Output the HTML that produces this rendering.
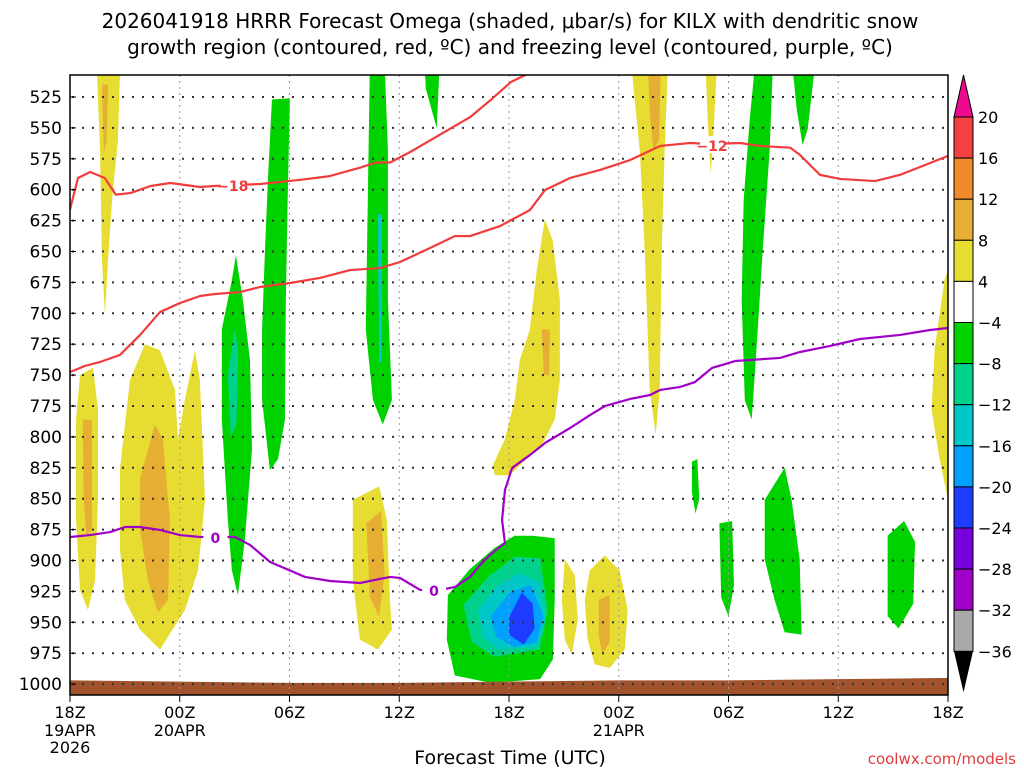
<!DOCTYPE html>
<html><head><meta charset="utf-8"><style>
body{margin:0;background:#fff;width:1024px;height:768px;overflow:hidden;font-family:"Liberation Sans","DejaVu Sans",sans-serif}
svg text{font-family:"DejaVu Sans","Liberation Sans",sans-serif}
</style></head><body>
<svg id="chart" width="1024" height="768" viewBox="0 0 1024 768" xmlns="http://www.w3.org/2000/svg">
<g font-size="20" text-anchor="middle" fill="#000">
<text x="510" y="28">2026041918 HRRR Forecast Omega (shaded, μbar/s) for KILX with dendritic snow</text>
<text x="510" y="54">growth region (contoured, red, ºC) and freezing level (contoured, purple, ºC)</text>
</g>
<defs><clipPath id="pc"><rect x="70" y="75" width="878" height="620"/></clipPath></defs>
<g id="shade" clip-path="url(#pc)"></g>
<g id="grid"></g>
<g id="lines" clip-path="url(#pc)"></g>
<rect x="70" y="75" width="878" height="620" fill="none" stroke="#000" stroke-width="1.5"/>
<g id="yaxis" font-size="17" text-anchor="end"></g>
<g id="xaxis" font-size="16" text-anchor="middle"></g>
<text x="510" y="764" font-size="19" text-anchor="middle">Forecast Time (UTC)</text>
<text x="1016" y="764" font-size="15" text-anchor="end" fill="#e03c3c">coolwx.com/models</text>
<g id="cbar" font-size="16"></g>
</svg>
<script>
const pressureTicks=[525,550,575,600,625,650,675,700,725,750,775,800,825,850,875,900,925,950,975,1000];
const timeTicks=[0,6,12,18,24,30,36,42,48];
const timeLabels=["18Z","00Z","06Z","12Z","18Z","00Z","06Z","12Z","18Z"];
const dateLabels=[["19APR","2026"],["20APR"],[],[],[],["21APR"],[],[],[]];
const cbLevels=[20,16,12,8,4,-4,-8,-12,-16,-20,-24,-28,-32,-36];
const cbColors=["#f44040","#f08a2a","#e6ae32","#e6dc32","#ffffff","#00d200","#00d28c","#00c8c8","#00a0ff","#1e3cff","#7800dc","#a000c8","#a8a8a8"];
const C={y:"#e6dc32",o:"#e6ae32",g:"#00d200",t:"#00d28c",c:"#00c8c8",b:"#00a0ff",d:"#1e3cff"};
const blobs=[
["y",[[1.48,507],[2.73,507],[2.62,560],[2.3,608],[2.08,657],[1.91,701],[1.75,657],[1.64,568]]],
["o",[[1.75,515],[2.08,515],[2.0,560],[1.85,570]]],
["y",[[0.55,750],[1.26,744],[1.53,778],[1.53,851],[1.37,916],[0.98,940],[0.55,924],[0.33,867],[0.33,786]]],
["o",[[0.7,786],[1.2,786],[1.2,875],[0.9,880],[0.75,850]]],
["y",[[2.73,826],[3.28,754],[4.1,725],[4.92,730],[5.74,762],[5.9,802],[6.28,770],[6.83,730],[7.1,754],[7.38,851],[7.0,908],[6.28,940],[4.92,972],[3.83,956],[3,932],[2.73,891]]],
["o",[[3.83,834],[4.64,790],[5.08,802],[5.46,867],[5.36,932],[4.81,942],[4.26,916],[3.83,875]]],
["g",[[8.3,713],[8.85,673],[9.07,653],[9.45,689],[9.84,738],[9.95,810],[9.56,883],[9.18,928],[8.85,908],[8.63,867],[8.3,786]]],
["t",[[8.63,750],[9.0,713],[9.2,730],[9.1,790],[8.8,800]]],
["g",[[10.5,713],[10.66,649],[10.82,592],[11.04,527],[12.02,526],[11.9,608],[11.8,689],[11.75,786],[11.37,818],[10.93,827],[10.5,770]]],
["g",[[16.39,503],[17.21,502],[17.38,568],[17.38,689],[17.6,770],[17.1,790],[16.56,770],[16.17,713],[16.28,608]]],
["c",[[16.83,620],[17.05,620],[17.05,740],[16.9,740]]],
["g",[[19.4,502],[20.2,502],[20.05,550],[19.78,536],[19.45,518]]],
["y",[[15.46,851],[16.9,840],[17.32,867],[17.49,932],[17.6,956],[16.83,972],[15.85,964],[15.46,916]]],
["o",[[16.2,870],[17.0,860],[17.2,910],[16.9,945],[16.4,930]]],
["g",[[20.66,928],[21.86,907],[23.2,890],[24.3,880],[25.3,880],[26.5,882],[26.5,932],[26.4,980],[25.7,996],[23.0,999],[21.04,993],[20.6,964]]],
["t",[[21.5,936],[22.95,912],[24.3,897],[25.7,898],[26.12,940],[25.68,972],[23.2,978],[21.97,966]]],
["c",[[22.3,940],[23.4,920],[24.6,910],[25.7,918],[25.96,950],[25.5,970],[23.4,972],[22.6,962]]],
["b",[[23.0,945],[24.1,925],[25.2,920],[25.9,945],[25.5,966],[24.3,970],[23.3,962]]],
["d",[[24.0,946],[24.7,926],[25.3,935],[25.4,955],[24.8,968],[24.0,960]]],
["y",[[23.11,823],[23.77,802],[24.32,770],[24.59,738],[25.14,713],[25.52,665],[25.96,624],[26.39,641],[26.78,689],[26.78,754],[26.5,786],[25.68,810],[25.14,815],[24.04,831],[23.22,831]]],
["o",[[25.8,713],[26.23,713],[26.2,750],[25.9,750]]],
["y",[[27.05,899],[27.6,912],[27.76,948],[27.43,976],[27.05,964],[26.89,932]]],
["y",[[28.42,908],[29.23,896],[30.05,908],[30.49,940],[30.33,972],[29.5,987],[28.69,984],[28.3,964],[28.14,932]]],
["o",[[28.9,932],[29.5,928],[29.5,966],[29.1,976],[28.9,960]]],
["y",[[30.71,502],[32.68,502],[32.51,568],[32.35,649],[32.24,762],[32.02,798],[31.69,762],[31.42,649],[31.15,568],[30.87,527]]],
["o",[[31.6,502],[32.3,502],[32.2,560],[31.9,568],[31.7,540]]],
["y",[[34.75,502],[35.36,502],[35.19,551],[35.03,588],[34.86,543]]],
["g",[[37.43,502],[38.42,502],[38.25,568],[37.87,649],[37.6,713],[37.27,786],[36.89,770],[36.72,689],[36.83,608],[37.16,543]]],
["g",[[39.51,502],[40.71,502],[40.33,551],[40.05,564],[39.73,535]]],
["g",[[34.0,820],[34.3,818],[34.4,850],[34.2,862],[34.0,845]]],
["g",[[35.5,870],[36.2,868],[36.3,920],[36.0,945],[35.6,930]]],
["g",[[37.98,851],[39.07,825],[39.45,851],[39.89,899],[40.0,960],[39.07,958],[38.52,932],[37.98,899]]],
["g",[[44.7,880],[45.6,868],[46.2,885],[46.1,935],[45.3,955],[44.7,945]]],
["g",[[46.9,502],[47.6,502],[47.4,507],[47.0,507]]],
["y",[[48,665],[48,851],[47.54,818],[47.1,778],[47.27,729],[47.81,673]]]
];
const dgz18h=[0,0.44,1.1,1.9,2.5,3.3,4.4,5.5,7.1,7.9,10.4,12.6,14.2,15.9,16.7,17.5,18.6,20.2,21.9,23,24.1,25.7];
const dgz18p=[616,590.5,585.7,590.5,604,602.7,597,594.6,597.8,597,595.4,592,589,582,578,578,569.5,555.7,541,527.4,512.9,501.5];
const dgz12h=[0,0.82,1.64,2.73,3.83,4.92,6.01,7.11,7.93,9.29,10.39,12.03,13.67,15.31,16.95,18.04,19.68,21.05,21.87,23.51,25.15,25.97,27.34,28.98,30.62,32.26,33.9,34.99,36.63,37.73,39.37,39.91,41,42.1,44.01,45.38,47.02,48];
const dgz12p=[747.5,742.6,739.4,733.7,717.5,699,691.7,686,684.4,682.8,678.7,675.5,671.4,665,663.4,658.5,647.2,637.5,637.5,629.4,616.4,600.2,590.5,584,576,564.6,562.2,563,562.2,564.6,566,571.9,588,591.3,593,588,578.4,572.7];
const frzh=[0,1.09,2.19,3.01,3.83,4.92,6.01,7.11,7.93,9.02,9.84,10.94,12.85,14.22,15.86,16.68,17.5,18.04,18.59,19.14,20.23,21.05,21.87,22.42,22.96,23.78,23.62,23.78,24.17,25.15,25.97,27.34,28.43,29.25,30.62,31.71,32.26,33.36,34.17,35.1,36.36,38.82,39.91,41.55,43.19,45.38,47.02,48];
const frzp=[881,879.4,877,872.9,872.9,875.3,879.4,881,881,881,887.4,901.2,913.3,916.6,918.2,915.7,913.3,914.1,919,923.8,923.8,921.4,913.3,903.6,895.5,885.8,867.2,842.9,825.1,814.6,804.9,792.8,782.3,775,769.3,766.1,762,759.6,755.6,744.2,738.6,736.1,731.3,726.4,720.8,717.5,713.5,711.9];
const groundH=[0,6,12,18,24,30,36,42,48];
const groundP=[997,998,999,999,998,997,997,996,995];

const X=h=>70+h*(878/48);
const Y=p=>97+(p-525)*1.236;
const NS="http://www.w3.org/2000/svg";
function mk(tag,attrs,parent){const e=document.createElementNS(NS,tag);for(const k in attrs)e.setAttribute(k,attrs[k]);parent.appendChild(e);return e;}
const shade=document.getElementById('shade');
blobs.forEach(b=>{
  const e=mk('polygon',{points:b[1].map(q=>X(q[0])+','+Y(q[1])).join(' '),fill:C[b[0]]},shade);
  
  
});
let gp='M'+X(0)+','+Y(1012);
groundH.forEach((h,i)=>{gp+=' L'+X(h)+','+Y(groundP[i]);});
gp+=' L'+X(48)+','+Y(1012)+' Z';
const g=mk('path',{d:gp,fill:'#a0522d'},shade);


const grid=document.getElementById('grid');
pressureTicks.forEach(p=>{const l=mk('line',{x1:72,x2:948,y1:Y(p),y2:Y(p),stroke:'#333','stroke-width':2,'stroke-dasharray':'2 8'},grid);

});
timeTicks.slice(1,-1).forEach(h=>{const l=mk('line',{x1:X(h),x2:X(h),y1:75,y2:695,stroke:'#999','stroke-width':1,'stroke-dasharray':'2 4'},grid);

});
const lines=document.getElementById('lines');
function pl(hs,ps,col,name){const e=mk('polyline',{points:hs.map((h,i)=>X(h)+','+Y(ps[i])).join(' '),fill:'none',stroke:col,'stroke-width':2.2,'stroke-linejoin':'round'},lines);

}
pl(dgz18h,dgz18p,'#f03c3c','dgz-minus18-line');
pl(dgz12h,dgz12p,'#f03c3c','dgz-minus12-line');
pl(frzh,frzp,'#a000c8','freezing-level-line');
function lab(h,p,t,col){mk('rect',{x:X(h)-12,y:Y(p)-9,width:24,height:17,fill:'#fff'},lines);
const e=mk('text',{x:X(h),y:Y(p)+6,fill:col,'font-size':14,'font-weight':'bold','text-anchor':'middle'},lines);e.textContent=t;

}
lab(8.9,596,'−18','#f03c3c');
lab(35.1,564,'−12','#f03c3c');
lab(7.95,881,'0','#a000c8');
lab(19.9,924,'0','#a000c8');
const ya=document.getElementById('yaxis');
pressureTicks.forEach(p=>{const t=mk('text',{x:62,y:Y(p)+6},ya);t.textContent=p;


mk('line',{x1:70,x2:76,y1:Y(p),y2:Y(p),stroke:'#000'},ya);});
const xa=document.getElementById('xaxis');
timeTicks.forEach((h,i)=>{mk('line',{x1:X(h),x2:X(h),y1:695,y2:702,stroke:'#000'},xa);
const t=mk('text',{x:X(h),y:718},xa);t.textContent=timeLabels[i];


dateLabels[i].forEach((d,j)=>{const u=mk('text',{x:X(h),y:736+j*17},xa);u.textContent=d;

});});
const cb=document.getElementById('cbar');
const cbTop=117,cbStep=41.1,cx=954,cw=19;
const tri1=mk('polygon',{points:`${cx},${cbTop} ${cx+cw},${cbTop} ${cx+cw/2},75`,fill:'#ee0a8c',stroke:'#000'},cb);


cbColors.forEach((c,i)=>{const r=mk('rect',{x:cx,y:cbTop+i*cbStep,width:cw,height:cbStep,fill:c,stroke:'#000'},cb);

});
const bot=cbTop+cbColors.length*cbStep;
const tri2=mk('polygon',{points:`${cx},${bot} ${cx+cw},${bot} ${cx+cw/2},${bot+41}`,fill:'#000'},cb);


cbLevels.forEach((v,i)=>{const t=mk('text',{x:978,y:cbTop+i*cbStep+6},cb);t.textContent=v<0?'−'+(-v):v;

});
</script>
</body></html>
